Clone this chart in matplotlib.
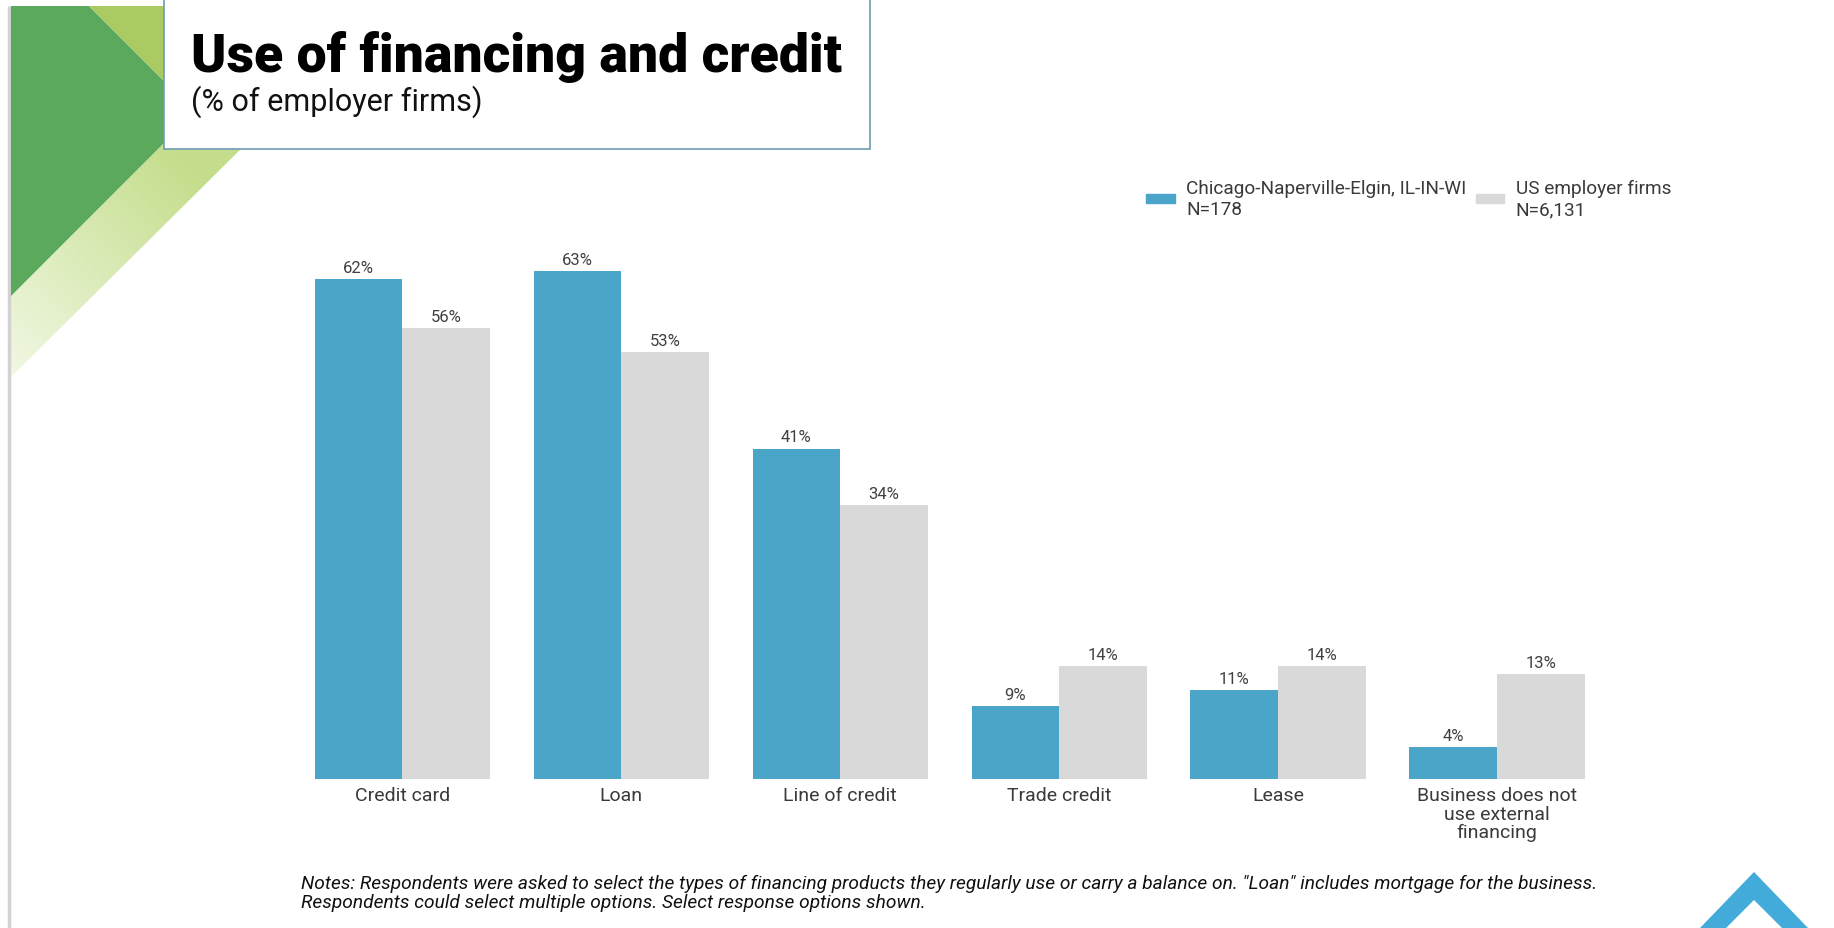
import numpy as np
import matplotlib.pyplot as plt
from matplotlib.patches import Polygon, Rectangle, Patch

plt.rcParams['font.family'] = ['Roboto', 'DejaVu Sans']

categories = ['Credit card', 'Loan', 'Line of credit', 'Trade credit', 'Lease',
              'Business does not\nuse external\nfinancing']
chicago = [62, 63, 41, 9, 11, 4]
us_firms = [56, 53, 34, 14, 14, 13]
series_labels = ['Chicago-Naperville-Elgin, IL-IN-WI\nN=178', 'US employer firms\nN=6,131']

title = 'Use of financing and credit'
subtitle = '(% of employer firms)'
notes = ('Notes: Respondents were asked to select the types of financing products they regularly use '
         'or carry a balance on. "Loan" includes mortgage for the business.\n'
         'Respondents could select multiple options. Select response options shown.')

blue = '#4ba5c8'
gray = '#d9d9d9'
text_col = '#3a3a3a'

W, H = 1834, 929
fig = plt.figure(figsize=(W / 100, H / 100), dpi=100)

# slide background, laid out in pixel units
bg = fig.add_axes([0, 0, 1, 1], zorder=0)
bg.set_xlim(0, W)
bg.set_ylim(H, 0)
bg.axis('off')

# left border line
bg.plot([9, 9], [7, H], color='#d2d2d2', lw=2.5, solid_capstyle='butt')

# pale green band with a fade toward the lower left
band = Polygon([(11, 297), (175, 133), (258, 133), (11, 378)], closed=True,
               facecolor='none', edgecolor='none')
bg.add_patch(band)
gx, gy = np.meshgrid(np.linspace(0, 260, 200), np.linspace(130, 400, 200))
t = np.clip((gx + (400 - gy)) / 420, 0, 1)[..., None]
c0 = np.array([0.96, 0.98, 0.92])
c1 = np.array([0.77, 0.87, 0.55])
img = c0 + (c1 - c0) * t
im = bg.imshow(img, extent=(0, 260, 400, 130), origin='upper', zorder=1, aspect='auto')
im.set_clip_path(band)

# dark green and olive triangles
bg.add_patch(Polygon([(11, 7), (89, 7), (200, 118), (200, 108), (11, 297)], closed=True,
                     facecolor='#5aa95d', edgecolor='none', zorder=2))
bg.add_patch(Polygon([(89, 7), (200, 7), (200, 118)], closed=True,
                     facecolor='#a9cb62', edgecolor='none', zorder=2))

# title box
bg.add_patch(Rectangle((164, -5), 706, 155, facecolor='white', edgecolor='#6f9cb5',
                       lw=1.2, zorder=3))
bg.text(191, 72, title, fontsize=38.5, fontweight='black', color='black', va='baseline', zorder=4)
bg.text(191, 111, subtitle, fontsize=22, color='#111111', va='baseline', zorder=4)

# blue chevron in the lower right
bg.add_patch(Polygon([(1700, 929), (1754, 873), (1808, 929), (1782, 929), (1754, 901), (1726, 929)],
                     closed=True, facecolor='#42abd9', edgecolor='none', zorder=2))

# footnote
bg.text(301, 875, notes, fontsize=13.8, style='italic', color='#111111', va='top',
        linespacing=1.05, zorder=4)

# bar chart
ax = fig.add_axes([0.1477, 0.1604, 0.7402, 0.6071], zorder=1)
ax.patch.set_alpha(0)
x = np.arange(len(categories))
w = 0.4
b1 = ax.bar(x - w / 2, chicago, w, color=blue)
b2 = ax.bar(x + w / 2, us_firms, w, color=gray)
ax.bar_label(b1, labels=[f'{v}%' for v in chicago], padding=3, fontsize=12, color='#404040')
ax.bar_label(b2, labels=[f'{v}%' for v in us_firms], padding=3, fontsize=12, color='#404040')

ax.set_xlim(-0.6, 5.6)
ax.set_ylim(0, 70)
ax.set_xticks(x, categories, fontsize=14, color=text_col, linespacing=1.05)
ax.tick_params(axis='x', length=0, pad=5)
ax.set_yticks([])
for s in ax.spines.values():
    s.set_visible(False)

fig.legend(handles=[Patch(color=blue), Patch(color=gray)], labels=series_labels,
           ncol=2, loc='upper left', bbox_to_anchor=(1146 / W, 1 - 180 / H),
           frameon=False, fontsize=13.7, handlelength=1.5, handleheight=0.4,
           handletextpad=0.6, columnspacing=0.5, borderpad=0, borderaxespad=0,
           labelcolor=text_col)

fig.savefig('out.png', dpi=100)
